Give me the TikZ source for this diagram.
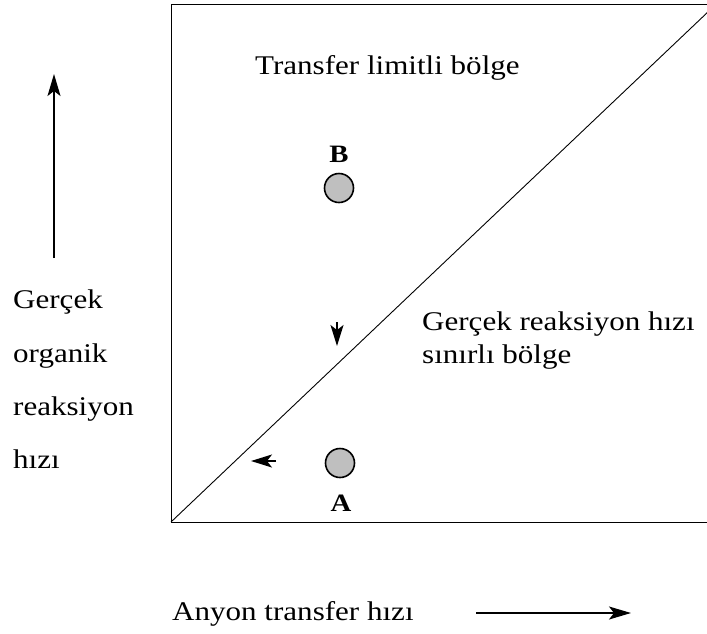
\documentclass[tikz,border=0pt]{standalone}
\usepackage{fontspec}
\setmainfont[FakeStretch=1.15]{Liberation Serif}
\usetikzlibrary{arrows.meta}
\begin{document}
\begin{tikzpicture}[x=1pt,y=-1pt,
  txt/.style={inner sep=0pt,font=\fontsize{27}{33}\selectfont},
  lbl/.style={inner sep=0pt,font=\fontsize{25}{30}\selectfont\bfseries},
  pt/.style={circle,draw,line width=1.6pt,fill=black!25,minimum size=29pt,inner sep=0pt},
  edge/.style={line width=0.9pt},
  axisarrow/.style={line width=1.3pt,-{Stealth[length=22pt,width=13pt,inset=5pt]}},
  tip/.style={line width=1.5pt,-{Stealth[length=21pt,width=13pt,inset=5pt]}}]
\useasboundingbox (0,0) rectangle (707,633);
% frame and diagonal boundary
\coordinate (bl) at (171,522);
\coordinate (tl) at (171,4);
\coordinate (tr) at (710,4);
\coordinate (br) at (710,522);
\coordinate (dg) at (710,10);
\draw[edge] (tr) -- (tl) -- (bl) -- (br);
\draw[edge] (bl) -- (dg);
% region labels
\node[txt,anchor=base west] (t1) at (255,74) {Transfer limitli bölge};
\node[txt,anchor=base west] (t2) at (422,330) {Gerçek reaksiyon hızı};
\node[txt,anchor=base west] (t3) at (422,363) {sınırlı bölge};
% operating points
\node[pt] (B) at (339,188) {};
\node[lbl,anchor=base] (Bl) at (339,162) {B};
\node[pt] (A) at (340,463) {};
\node[lbl,anchor=base] (Al) at (341,511) {A};
% short direction marks
\coordinate (d1) at (337,322);
\coordinate (d2) at (337,346);
\draw[tip] (d1) -- (d2);
\coordinate (l1) at (276,461);
\coordinate (l2) at (251,461);
\draw[tip] (l1) -- (l2);
% vertical axis
\coordinate (v1) at (54,258);
\coordinate (v2) at (54,74);
\draw[axisarrow] (v1) -- (v2);
\node[txt,anchor=base west] (y1) at (13,308) {Gerçek};
\node[txt,anchor=base west] (y2) at (13,362) {organik};
\node[txt,anchor=base west] (y3) at (13,415) {reaksiyon};
\node[txt,anchor=base west] (y4) at (13,468) {hızı};
% horizontal axis
\node[txt,anchor=base west] (x1) at (172,620) {Anyon transfer hızı};
\coordinate (h1) at (476,613);
\coordinate (h2) at (631,613);
\draw[axisarrow] (h1) -- (h2);
\end{tikzpicture}
\end{document}
